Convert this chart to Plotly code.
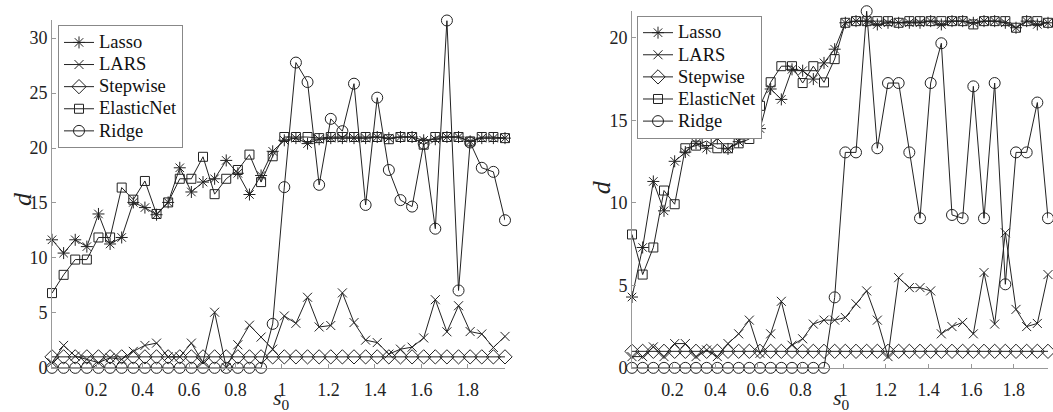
import plotly.graph_objects as go

W, H = 1053, 412

s0 = [0.01, 0.06, 0.11, 0.16, 0.21, 0.26, 0.31, 0.36, 0.41, 0.46,
      0.51, 0.56, 0.61, 0.66, 0.71, 0.76, 0.81, 0.86, 0.91, 0.96,
      1.01, 1.06, 1.11, 1.16, 1.21, 1.26, 1.31, 1.36, 1.41, 1.46,
      1.51, 1.56, 1.61, 1.66, 1.71, 1.76, 1.81, 1.86, 1.91, 1.96]

# ---- left panel ----
lasso_L = [11.65, 10.44, 11.65, 11.03, 14.0, 11.27, 11.86, 15.05, 14.58, 13.93,
           15.05, 18.2, 16.0, 16.9, 17.2, 18.87, 17.7, 15.77, 17.5, 19.7,
           20.7, 20.9, 20.4, 20.8, 20.9, 20.9, 20.9, 20.9, 21.0, 20.9,
           21.0, 21.0, 20.7, 20.8, 21.0, 21.0, 20.6, 20.9, 20.9, 20.9]
lars_L = [0.47, 2.04, 1.06, 0.77, 0.47, 0.92, 0.77, 1.5, 2.04, 2.25,
          1.0, 1.0, 2.25, 0.5, 5.06, 0.03, 2.1, 3.88, 2.8, 1.7,
          4.72, 4.05, 6.42, 3.72, 3.85, 6.82, 4.12, 2.52, 2.3, 1.25,
          1.7, 1.88, 2.72, 6.2, 3.28, 5.65, 3.3, 3.08, 1.85, 2.86]
step_L = [1, 1, 1, 1, 1, 1, 1, 1, 1, 1, 1, 1, 1, 1, 1, 1, 1, 1, 1, 1,
          1, 1, 1, 1, 1, 1, 1, 1, 1, 1, 1, 1, 1, 1, 1, 1, 1, 1, 1, 1]
elastic_L = [6.8, 8.46, 9.85, 9.85, 11.86, 11.86, 16.4, 15.3, 17.0, 14.0,
             15.05, 17.2, 17.2, 19.2, 15.8, 17.2, 18.0, 19.4, 16.9, 19.25,
             21.0, 21.0, 21.0, 20.9, 21.0, 21.0, 21.0, 21.0, 21.0, 20.8,
             21.0, 21.0, 20.3, 21.0, 21.0, 21.0, 20.6, 21.0, 21.0, 20.9]
ridge_L = [0, 0, 0, 0, 0, 0, 0, 0, 0, 0, 0, 0, 0, 0, 0, 0, 0, 0, 0, 4.0,
           16.44, 27.77, 26.0, 16.65, 22.65, 21.53, 25.85, 14.82, 24.58, 18.0,
           15.26, 14.67, 20.4, 12.66, 31.6, 7.04, 20.5, 18.2, 17.83, 13.43]

# ---- right panel ----
lasso_R = [4.29, 7.29, 11.29, 9.51, 12.51, 13.07, 13.6, 13.3, 13.9, 13.26,
           13.7, 15.28, 14.49, 16.89, 16.26, 18.08, 18.0, 17.49, 18.47, 19.3,
           20.9, 21.0, 21.0, 20.8, 20.9, 20.9, 20.9, 20.9, 21.0, 20.8,
           21.0, 21.0, 20.9, 21.0, 21.0, 20.9, 20.6, 21.0, 20.8, 20.9]
lars_R = [0.68, 0.68, 1.27, 0.68, 1.47, 1.47, 0.68, 1.08, 0.68, 1.47,
          2.06, 2.89, 0.88, 2.06, 4.03, 1.37, 1.76, 2.65, 2.89, 2.89,
          3.05, 3.88, 4.66, 2.89, 0.68, 5.46, 4.86, 4.86, 4.66, 2.06,
          2.5, 2.75, 2.06, 5.77, 2.65, 8.18, 3.54, 2.5, 2.69, 5.65]
step_R = [1, 1, 1, 1, 1, 1, 1, 1, 1, 1, 1, 1, 1, 1, 1, 1, 1, 1, 1, 1,
          1, 1, 1, 1, 1, 1, 1, 1, 1, 1, 1, 1, 1, 1, 1, 1, 1, 1, 1, 1]
elastic_R = [8.08, 5.65, 7.29, 10.74, 9.91, 13.3, 13.46, 13.74, 13.3, 13.3,
             13.6, 13.86, 15.87, 17.3, 18.27, 18.27, 17.25, 18.27, 17.29, 18.7,
             20.9, 21.0, 21.0, 21.0, 21.0, 20.9, 21.0, 21.0, 21.0, 21.0,
             21.0, 21.0, 20.8, 21.0, 21.0, 21.0, 20.6, 21.0, 21.0, 20.9]
ridge_R = [0, 0, 0, 0, 0, 0, 0, 0, 0, 0, 0, 0, 0, 0, 0, 0, 0, 0, 0, 4.27,
           13.05, 13.05, 21.6, 13.3, 17.25, 17.25, 13.05, 9.06, 17.25, 19.66,
           9.26, 9.06, 17.05, 9.06, 17.25, 5.06, 13.05, 13.05, 16.07, 9.06]

names = ["Lasso", "LARS", "Stepwise", "ElasticNet", "Ridge"]
symbols = ["asterisk-open", "x-thin-open", "diamond-open", "square-open", "circle-open"]
sizes = [10, 9, 11, 9, 11]
LC = "#222222"
FONT = "Liberation Serif, Times New Roman, serif"

fig = go.Figure()

def add_panel(series, xa, ya, legend):
    for name, ys, sym, sz in zip(names, series, symbols, sizes):
        fig.add_trace(go.Scatter(
            x=s0, y=ys, name='<span style="font-size:18.5px">%s</span>' % name,
            mode="lines+markers",
            xaxis=xa, yaxis=ya, legend=legend, cliponaxis=False,
            line=dict(color=LC, width=1),
            marker=dict(symbol=sym, size=sz, color=LC,
                        line=dict(color=LC, width=1)),
        ))

add_panel([lasso_L, lars_L, step_L, elastic_L, ridge_L], "x", "y", "legend")
add_panel([lasso_R, lars_R, step_R, elastic_R, ridge_R], "x2", "y2", "legend2")

xt = [0.2, 0.4, 0.6, 0.8, 1.0, 1.2, 1.4, 1.6, 1.8]
xtt = ["0.2", "0.4", "0.6", "0.8", "1", "1.2", "1.4", "1.6", "1.8"]

def axstyle(**kw):
    d = dict(showline=True, linecolor="#999", linewidth=1, ticks="inside",
             ticklen=4, tickcolor="#999", showgrid=False, zeroline=False,
             tickfont=dict(family=FONT, size=18, color="#222"))
    d.update(kw)
    return d

def xstyle(**kw):
    # labels pushed down by an invisible outside tick; visible ticks drawn inside as minor ticks
    d = axstyle(ticks="outside", ticklen=6, tickcolor="rgba(0,0,0,0)",
                tickvals=xt, ticktext=xtt, range=[0.01, 1.96],
                minor=dict(tickvals=xt, ticks="inside", ticklen=4, tickcolor="#999",
                           showgrid=False))
    d.update(kw)
    return d

L1, R1 = 52, 505
L2, R2 = 632, 1048
B = 377

fig.update_layout(
    width=W, height=H,
    margin=dict(l=0, r=0, t=0, b=0),
    paper_bgcolor="white", plot_bgcolor="white",
    xaxis=xstyle(domain=[L1 / W, R1 / W], anchor="y"),
    yaxis=axstyle(domain=[1 - B / H, 1 - 21 / H], range=[0, 31.6], tickvals=[0, 5, 10, 15, 20, 25, 30],
                  anchor="x"),
    xaxis2=xstyle(domain=[L2 / W, R2 / W], anchor="y2"),
    yaxis2=axstyle(domain=[1 - B / H, 1 - 11 / H], range=[0, 21.63], tickvals=[0, 5, 10, 15, 20],
                   anchor="x2"),
    legend=dict(x=58 / W, y=1 - 26 / H, xanchor="left", yanchor="top",
                bgcolor="white", bordercolor="#888", borderwidth=1,
                font=dict(family=FONT, size=14.7, color="#111"), tracegroupgap=0),
    legend2=dict(x=637 / W, y=1 - 16 / H, xanchor="left", yanchor="top",
                 bgcolor="white", bordercolor="#888", borderwidth=1,
                 font=dict(family=FONT, size=14.7, color="#111"), tracegroupgap=0),
    font=dict(family=FONT),
)

ann = []
for (xc, yc) in [(22, 204), (601, 192)]:
    ann.append(dict(x=xc / W, y=1 - yc / H, xref="paper", yref="paper",
                    xanchor="center", yanchor="middle",
                    text="<i>d</i>", showarrow=False, textangle=-90,
                    font=dict(family=FONT, size=26, color="#222")))
for xc in [281, 841]:
    ann.append(dict(x=xc / W, y=1 - 409 / H, xref="paper", yref="paper",
                    xanchor="center", yanchor="middle",
                    text="<i>s</i><sub>0</sub>", showarrow=False,
                    font=dict(family=FONT, size=22, color="#222")))
fig.update_layout(annotations=ann)

fig.write_html("out.html")
